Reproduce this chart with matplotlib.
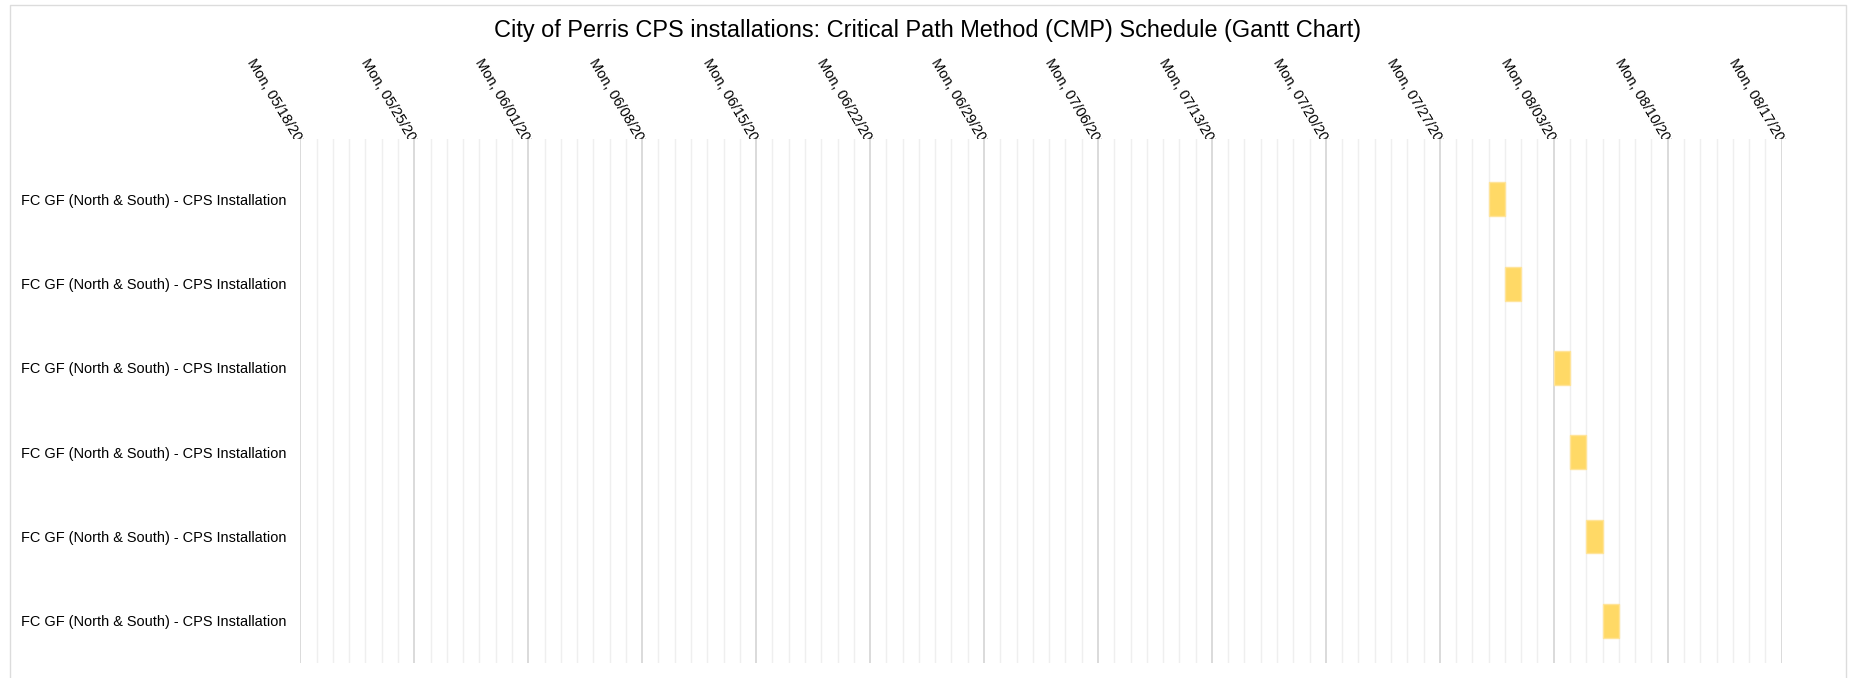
import matplotlib
matplotlib.use("Agg")
import matplotlib.pyplot as plt
import matplotlib.dates as mdates
from matplotlib.patches import Rectangle
from matplotlib.transforms import Bbox, TransformedBbox, blended_transform_factory
import datetime as dt

plt.rcParams['font.family'] = ['Liberation Sans', 'DejaVu Sans']

title = "City of Perris CPS installations: Critical Path Method (CMP) Schedule (Gantt Chart)"
tasks = ["FC GF (North & South) - CPS Installation"] * 6
starts = ["2020-07-30", "2020-07-31", "2020-08-03", "2020-08-04", "2020-08-05", "2020-08-06"]
durations_days = [1, 1, 1, 1, 1, 1]
range_start = "2020-05-18"
range_end = "2020-08-17"

W, H = 1861, 678
fig = plt.figure(figsize=(W / 100, H / 100), dpi=100)
left, right, top, bottom = 300, 1782, 139, 663
ax = fig.add_axes([left / W, 1 - bottom / H, (right - left) / W, (bottom - top) / H])

x0 = mdates.date2num(dt.datetime.fromisoformat(range_start))
x1 = mdates.date2num(dt.datetime.fromisoformat(range_end))
s = [mdates.date2num(dt.datetime.fromisoformat(d)) for d in starts]
ypos = list(range(len(tasks)))

# grid lines
for d in range(int(x1 - x0) + 1):
    xv = x0 + d
    major = (d % 7 == 0)
    ax.axvline(xv, color='#d4d4d4' if major else '#efefef', lw=1.2 if major else 1.0, zorder=0)

ax.barh(ypos, durations_days, left=s, height=0.40, color='#FFD966',
        edgecolor='#FFE49A', lw=1, zorder=3)

ax.set_xlim(x0 - 0.02, x1 + 0.02)
ax.set_ylim(5.5, -0.716)
ax.set_yticks(ypos)
ax.set_yticklabels(tasks, fontsize=10.45)
ax.tick_params(axis='y', length=0, pad=10)
ax.set_xticks([])
for sp in ax.spines.values():
    sp.set_visible(False)

# rotated week labels clipped at plot top
clipbox = TransformedBbox(Bbox([[0, 1 - top / H], [1, 1]]), fig.transFigure)
trans = blended_transform_factory(ax.transData, ax.transAxes)
for d in range(0, int(x1 - x0) + 1, 7):
    xv = x0 + d
    lab = mdates.num2date(xv).strftime('%a, %m/%d/%Y')
    t = ax.annotate(lab, xy=(xv, 1.0), xycoords=trans, xytext=(-50, 79),
                    textcoords='offset pixels', rotation=-59, rotation_mode='anchor',
                    ha='left', va='center', fontsize=10.45, annotation_clip=False)
    t.set_clip_on(True)
    t.set_clip_box(clipbox)

fig.text(928 / W, 1 - 30 / H, title, ha='center', va='center', fontsize=16.9)

fig.add_artist(Rectangle((10 / W, -0.02), 1836 / W, (H - 5) / H + 0.02,
                         transform=fig.transFigure, fill=False, ec='#dcdcdc', lw=1))

fig.savefig("out.png", dpi=100)
